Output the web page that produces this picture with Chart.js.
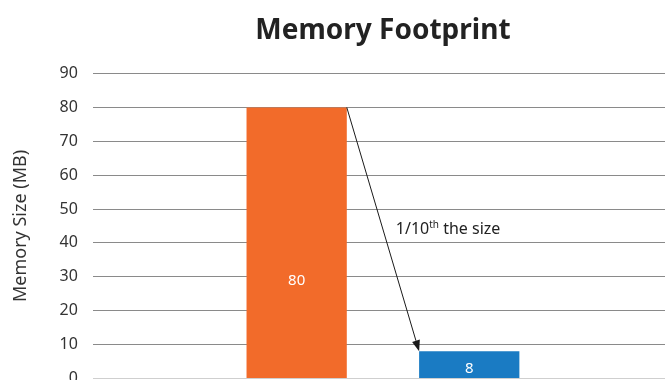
<!DOCTYPE html>
<html>
<head>
<meta charset="utf-8">
<script src="https://cdn.jsdelivr.net/npm/chart.js@4"></script>
<style>
  html, body { margin: 0; padding: 0; background: #fff; overflow: hidden; }
  #wrap { position: absolute; left: 0; top: 0; width: 673px; height: 403px; }
</style>
</head>
<body>
<div id="wrap"><canvas id="chart"></canvas></div>
<script>
// datos del gráfico
const categories = ['Memory Footprint'];
const seriesNames = ['Original', 'Optimized'];
const seriesValues = [[80], [8]];
const seriesColors = ['#F26B2A', '#1A7BC3'];
const yTicks = [0, 10, 20, 30, 40, 50, 60, 70, 80, 90];
const annotationText = ['1/10', 'th', ' the size'];

const FONT = "'Noto Sans', 'Open Sans', sans-serif";

// etiquetas blancas dentro de las barras + flecha de anotación
const overlayPlugin = {
    id: 'overlay',
    afterDatasetsDraw(chart) {
        const c = chart.ctx;
        const bars = chart.data.datasets.map((ds, i) => chart.getDatasetMeta(i).data[0]);

        c.save();
        c.font = '15px ' + FONT;
        c.fillStyle = '#fff';
        c.textAlign = 'center';
        c.textBaseline = 'middle';
        bars.forEach((bar, i) => {
            const val = chart.data.datasets[i].data[0];
            c.fillText(String(val), bar.x, bar.base - 0.36 * (bar.base - bar.y));
        });

        // flecha desde la esquina de la barra naranja hasta la azul
        const a = bars[0], b = bars[1];
        const x1 = a.x + a.width / 2, y1 = a.y;
        const x2 = b.x - b.width / 2, y2 = b.y;
        c.strokeStyle = '#1a1a1a';
        c.fillStyle = '#1a1a1a';
        c.lineWidth = 1;
        const ang = Math.atan2(y2 - y1, x2 - x1);
        const hl = 11, hw = 4;
        const bx = x2 - hl * Math.cos(ang), by = y2 - hl * Math.sin(ang);
        c.beginPath();
        c.moveTo(x1, y1);
        c.lineTo(bx, by);
        c.stroke();
        c.beginPath();
        c.moveTo(x2, y2);
        c.lineTo(bx + hw * Math.sin(ang), by - hw * Math.cos(ang));
        c.lineTo(bx - hw * Math.sin(ang), by + hw * Math.cos(ang));
        c.closePath();
        c.fill();

        // texto "1/10th the size"
        const ty = chart.scales.y.getPixelForValue(42.5);
        let tx = x1 + 49;
        c.textAlign = 'left';
        c.textBaseline = 'alphabetic';
        c.fillStyle = '#222';
        c.font = '16px ' + FONT;
        c.fillText(annotationText[0], tx, ty);
        tx += c.measureText(annotationText[0]).width;
        c.font = '10px ' + FONT;
        c.fillText(annotationText[1], tx, ty - 6);
        tx += c.measureText(annotationText[1]).width;
        c.font = '16px ' + FONT;
        c.fillText(annotationText[2], tx, ty);
        c.restore();
    }
};

new Chart(document.getElementById('chart'), {
    type: 'bar',
    data: {
        labels: categories,
        datasets: seriesNames.map((name, i) => ({
            label: name,
            data: seriesValues[i],
            backgroundColor: seriesColors[i],
            borderWidth: 0,
            categoryPercentage: 0.595,
            barPercentage: 0.581
        }))
    },
    options: {
        responsive: true,
        maintainAspectRatio: false,
        animation: false,
        layout: { padding: { left: 10, right: 0, top: 0, bottom: 0 } },
        plugins: {
            legend: { display: false },
            tooltip: { enabled: false },
            title: {
                display: true,
                text: 'Memory Footprint',
                fullSize: false,
                color: '#222',
                font: { family: FONT, size: 28, weight: 'bold' },
                padding: { top: 14, bottom: 26 }
            }
        },
        scales: {
            x: {
                grid: { display: false },
                border: { display: false },
                ticks: { display: false }
            },
            y: {
                min: 0,
                max: 90,
                afterBuildTicks: (scale) => { scale.ticks = yTicks.map(v => ({ value: v })); },
                border: { display: false },
                grid: {
                    drawTicks: false,
                    color: (ctx) => ctx.tick && ctx.tick.value === 0 ? '#cfcfcf' : '#8a8a8a',
                    lineWidth: 1
                },
                ticks: {
                    padding: 15,
                    color: '#333',
                    font: { family: FONT, size: 16 }
                },
                title: {
                    display: true,
                    text: 'Memory Size (MB)',
                    color: '#333',
                    font: { family: FONT, size: 18 },
                    padding: { top: 0, bottom: 13 }
                }
            }
        }
    },
    plugins: [overlayPlugin]
});
</script>
</body>
</html>
